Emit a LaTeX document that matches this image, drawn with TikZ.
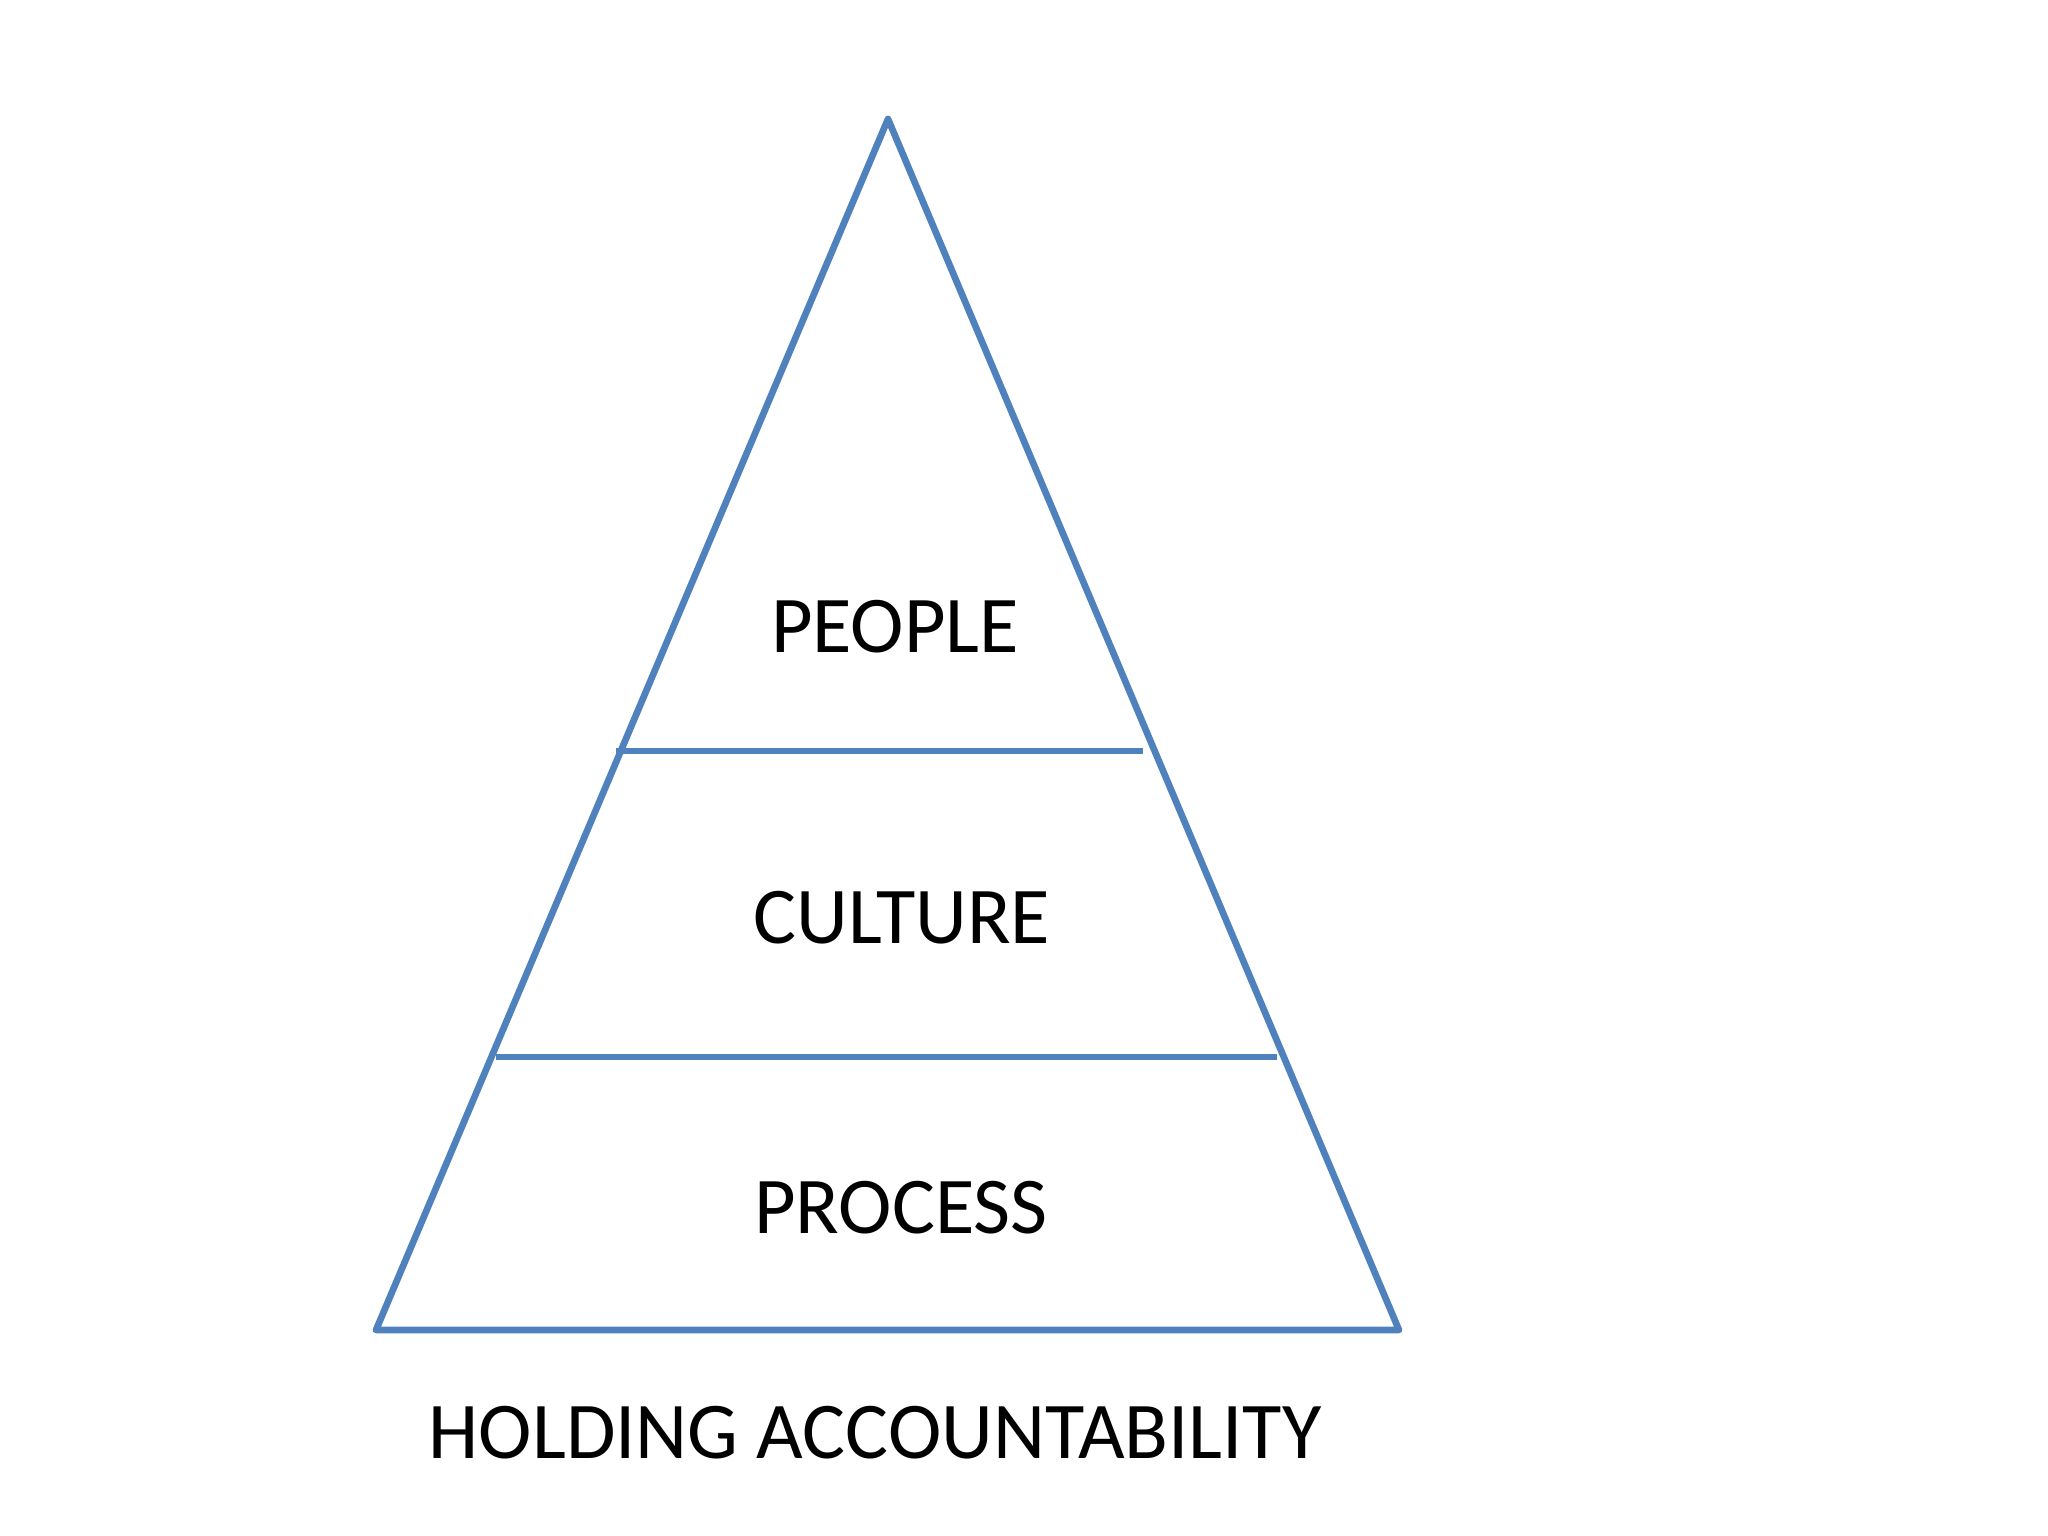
\documentclass[tikz,border=0pt]{standalone}
\usepackage{fontspec}
\setmainfont{Carlito}
\usepackage{tikz}

\definecolor{edgeblue}{RGB}{79,129,189}
\tikzset{
  edge/.style={draw=edgeblue, line width=1.9pt, line join=round},
  layer/.style={font=\fontsize{22.9}{27}\selectfont, inner sep=0pt, anchor=center}
}

\begin{document}
\begin{tikzpicture}[x=0.01cm, y=-0.01cm]
				\useasboundingbox (0,0) rectangle (2048,1536);
				% corners of the pyramid
				\coordinate (T) at (888,119);
				\coordinate (BL) at (376,1330);
				\coordinate (BR) at (1399,1330);
				
				% dividing lines
				\foreach \x/\y/\z in
				{L1/616/751, R1/1143/751, L2/496/1057, R2/1277/1057}{
					\coordinate(\x) at (\y,\z);
				}
				
				\draw[edge] (T)--(BL)--(BR)--cycle;
				\foreach \x/\y in
				{L1/R1, L2/R2}{
					\draw[edge] (\x)--(\y);
				}
				
				% labels
				\node[layer] (people) at (895,627){PEOPLE};
				\node[layer] (culture) at (902,918){CULTURE};
				\node[layer] (process) at (901,1208){PROCESS};
				\node[layer] (base) at (875,1433){HOLDING ACCOUNTABILITY};
			\end{tikzpicture}
\end{document}
